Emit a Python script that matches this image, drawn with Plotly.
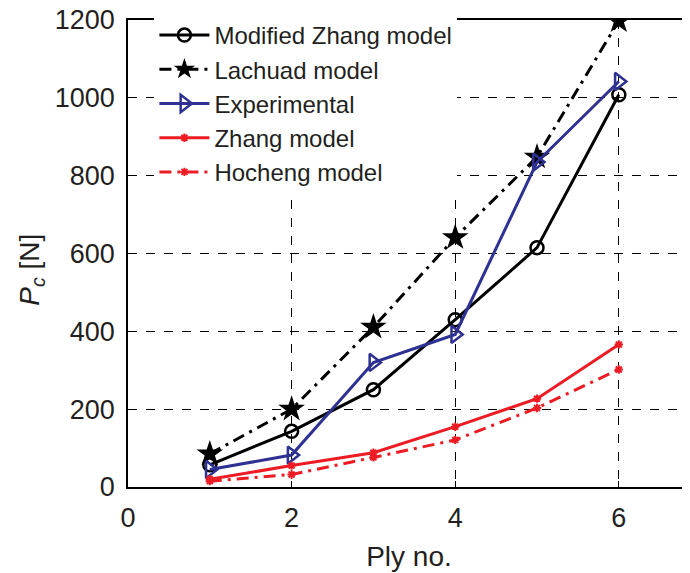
import plotly.graph_objects as go

ply = [1, 2, 3, 4, 5, 6]
modified_zhang = [57, 143, 250, 430, 615, 1008]
lachuad = [85, 200, 411, 641, 848, 1198]
experimental = [45, 82, 320, 392, 835, 1042]
zhang = [20, 55, 88, 155, 227, 366]
hocheng = [15, 32, 76, 121, 203, 302]

BLUE = "#2e3192"
RED = "#ed1c24"
FONT = "Liberation Sans, Arial, sans-serif"
DASHDOT = "12px,6px,3px,6px"

fig = go.Figure()
fig.add_trace(go.Scatter(x=ply, y=modified_zhang, name="Modified Zhang model", mode="lines+markers",
                         line=dict(color="black", width=3),
                         marker=dict(symbol="circle-open", size=13, color="black", line=dict(width=2.5)),
                         legendgroup="a"))
fig.add_trace(go.Scatter(x=ply, y=lachuad, name="Lachuad model", mode="lines+markers",
                         line=dict(color="black", width=3, dash=DASHDOT),
                         marker=dict(symbol="star", size=20, color="black"),
                         legendgroup="b"))
fig.add_trace(go.Scatter(x=ply, y=experimental, name="Experimental", mode="lines+markers",
                         line=dict(color=BLUE, width=3),
                         marker=dict(symbol="triangle-right-open", size=15, color=BLUE, line=dict(width=2.5)),
                         legendgroup="c"))
fig.add_trace(go.Scatter(x=ply, y=zhang, name="Zhang model", mode="lines+markers",
                         line=dict(color=RED, width=3),
                         marker=dict(symbol="asterisk", size=7, color=RED, line=dict(width=2, color=RED)),
                         legendgroup="d"))
fig.add_trace(go.Scatter(x=ply, y=hocheng, name="Hocheng model", mode="lines+markers",
                         line=dict(color=RED, width=3, dash=DASHDOT),
                         marker=dict(symbol="asterisk", size=7, color=RED, line=dict(width=2, color=RED)),
                         legendgroup="e"))

# y-axis title as a rotated annotation so it sits where the reference has it
fig.add_annotation(text="<i>P</i><sub><i>c</i></sub> [N]", xref="paper", yref="paper",
                   x=-0.171, y=0.465, xanchor="center", yanchor="middle",
                   textangle=-90, showarrow=False, font=dict(size=28, family=FONT, color="#231f20"))

# the page adds an 8px body margin, so the figure is sized to fill the rest of the window
fig.update_layout(
    width=682, height=565,
    margin=dict(l=120, r=0, t=12, b=86),
    paper_bgcolor="white", plot_bgcolor="white",
    font=dict(family=FONT, color="#231f20", size=22),
    showlegend=True,
    legend=dict(x=0.047, y=1.015, xanchor="left", yanchor="top",
                bgcolor="white", borderwidth=0,
                font=dict(size=24, family=FONT),
                tracegroupgap=9, traceorder="normal",
                itemwidth=50),
    xaxis=dict(range=[0, 6.87], tickvals=[0, 2, 4, 6], ticks="inside", ticklen=6,
               tickcolor="black", showline=True, linecolor="black", linewidth=1.5, mirror=True,
               showgrid=True, gridcolor="black", griddash="dash", gridwidth=1,
               zeroline=False, tickfont=dict(size=27), automargin=False,
               ticklabelstandoff=6, ticklabeloverflow="allow",
               title=dict(text="Ply no.", font=dict(size=28), standoff=14)),
    yaxis=dict(range=[0, 1200], tickvals=[0, 200, 400, 600, 800, 1000, 1200], ticks="inside", ticklen=6,
               tickcolor="black", showline=True, linecolor="black", linewidth=1.5,
               showgrid=True, gridcolor="black", griddash="dash", gridwidth=1,
               zeroline=False, tickfont=dict(size=27), automargin=False,
               ticklabelstandoff=6, ticklabeloverflow="allow"),
)

fig.write_html("out.html")
